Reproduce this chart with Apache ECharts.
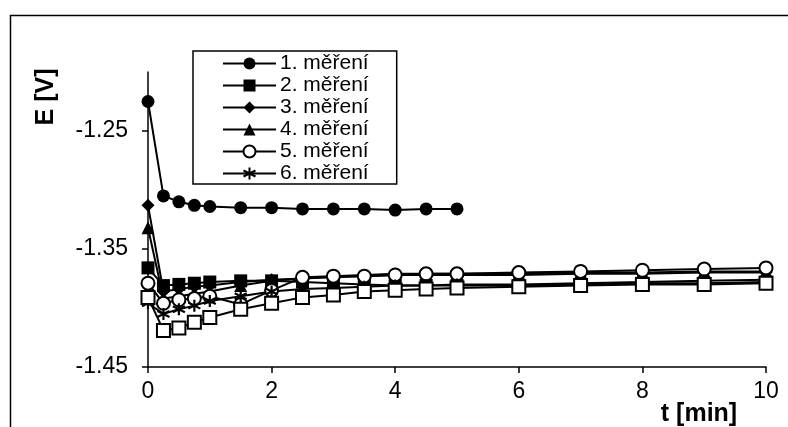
<!DOCTYPE html>
<html>
<head>
<meta charset="utf-8">
<script src="https://cdn.jsdelivr.net/npm/echarts@6/dist/echarts.min.js"></script>
<style>html,body{margin:0;padding:0;background:#fff;}#c{width:788px;height:427px;}</style>
</head>
<body>
<div id="c"></div>
<script>
var times = [0, 0.25, 0.5, 0.75, 1, 1.5, 2, 2.5, 3, 3.5, 4, 4.5, 5, 6, 7, 8, 9, 10];
var times1 = [0, 0.25, 0.5, 0.75, 1, 1.5, 2, 2.5, 3, 3.5, 4, 4.5, 5];
var names = ['1. měření', '2. měření', '3. měření', '4. měření', '5. měření', '6. měření'];
var yTicks = [-1.45, -1.35, -1.25];
var xTicks = [0, 2, 4, 6, 8, 10];

var m1 = [-1.225, -1.305, -1.310, -1.313, -1.314, -1.315, -1.315, -1.316, -1.316, -1.316, -1.317, -1.316, -1.316];
var m2 = [-1.366, -1.381, -1.380, -1.379, -1.378, -1.377, -1.377, -1.378, -1.379, -1.380, -1.381, -1.381, -1.381, -1.381, -1.380, -1.379, -1.379, -1.378];
var m3 = [-1.313, -1.386, -1.384, -1.382, -1.381, -1.378, -1.376, -1.375, -1.374, -1.373, -1.372, -1.372, -1.372, -1.372, -1.371, -1.371, -1.370, -1.370];
var m4 = [-1.332, -1.392, -1.390, -1.388, -1.386, -1.381, -1.377, -1.375, -1.373, -1.372, -1.371, -1.371, -1.371, -1.371, -1.370, -1.370, -1.369, -1.369];
var m5 = [-1.379, -1.396, -1.393, -1.392, -1.390, -1.397, -1.385, -1.374, -1.373, -1.373, -1.372, -1.371, -1.371, -1.370, -1.369, -1.368, -1.367, -1.366];
var m6 = [-1.396, -1.405, -1.401, -1.398, -1.394, -1.390, -1.386, -1.384, -1.383, -1.382, -1.381, -1.381, -1.380, -1.380, -1.379, -1.378, -1.377, -1.376];
var m7 = [-1.391, -1.419, -1.417, -1.412, -1.408, -1.401, -1.396, -1.391, -1.389, -1.386, -1.385, -1.384, -1.383, -1.382, -1.381, -1.380, -1.380, -1.379];

function pairs(xs, ys) { return xs.map(function (x, i) { return [x, ys[i]]; }); }

var FONT = 'Liberation Sans, Arial, sans-serif';
var starPath = 'path://M5,0 L5,10 M0.67,2.5 L9.33,7.5 M0.67,7.5 L9.33,2.5';

function mk(name, xs, ys, symbol, size, fill) {
  return {
    name: name, type: 'line', data: pairs(xs, ys),
    symbol: symbol, symbolSize: size, showAllSymbol: true,
    lineStyle: { color: '#000', width: 2 },
    itemStyle: { color: fill, borderColor: '#000', borderWidth: fill === '#000' ? 0 : 2 },
    emphasis: { disabled: true }, animation: false
  };
}

var series = [
  mk(names[0], times1, m1, 'circle', 13, '#000'),
  mk(names[1], times, m2, 'rect', 13, '#000'),
  mk(names[2], times, m3, 'diamond', 13, '#000'),
  mk(names[3], times, m4, 'triangle', 13, '#000'),
  mk(names[4], times, m5, 'circle', 13, '#fff'),
  mk(names[5], times, m6, starPath, 12, '#000'),
  mk('7', times, m7, 'rect', 13, '#fff')
];
series[5].itemStyle = { color: '#000', borderColor: '#000', borderWidth: 2.2 };

var chart = echarts.init(document.getElementById('c'), null, { renderer: 'canvas' });
chart.setOption({
  animation: false,
  backgroundColor: '#fff',
  grid: { left: 148, right: 22, top: 72, bottom: 60, containLabel: false },
  xAxis: {
    type: 'value', min: 0, max: 10, interval: 2,
    axisLine: { lineStyle: { color: '#000', width: 1.5 } },
    axisTick: { show: true, length: 6, lineStyle: { color: '#000', width: 1.5 }, customValues: xTicks },
    axisLabel: { color: '#000', fontSize: 23, fontFamily: FONT, margin: 13, customValues: xTicks },
    splitLine: { show: false }
  },
  yAxis: {
    type: 'value', min: -1.45, max: -1.20, interval: 0.1,
    axisLine: { show: true, lineStyle: { color: '#000', width: 1.5 } },
    axisTick: { show: true, length: 6, lineStyle: { color: '#000', width: 1.5 }, customValues: yTicks },
    axisLabel: { color: '#000', fontSize: 23, fontFamily: FONT, margin: 20, customValues: yTicks,
      formatter: function (v) { return v.toFixed(2); } },
    splitLine: { show: false }
  },
  legend: {
    orient: 'vertical', left: 193, top: 51,
    data: names,
    itemWidth: 53, itemHeight: 15, itemGap: 1,
    padding: [2, 28, 0, 29],
    backgroundColor: '#fff', borderColor: '#000', borderWidth: 1.5, borderRadius: 0,
    textStyle: { color: '#000', fontSize: 21, fontFamily: FONT, lineHeight: 20, padding: [0, 0, 0, -1] },
    selectedMode: false
  },
  graphic: [
    { type: 'rect', left: 8, top: 13, z: -10, silent: true,
      shape: { width: 800, height: 430 },
      style: { fill: 'none', stroke: '#000', lineWidth: 1.5 } },
    { type: 'text', x: 46, y: 97, rotation: Math.PI / 2, silent: true,
      style: { text: 'E [V]', fill: '#000', font: 'bold 25px ' + FONT, align: 'center', verticalAlign: 'middle' } },
    { type: 'text', x: 699, y: 414, silent: true,
      style: { text: 't [min]', fill: '#000', font: 'bold 25px ' + FONT, align: 'center', verticalAlign: 'middle' } }
  ],
  series: series
});
</script>
</body>
</html>
